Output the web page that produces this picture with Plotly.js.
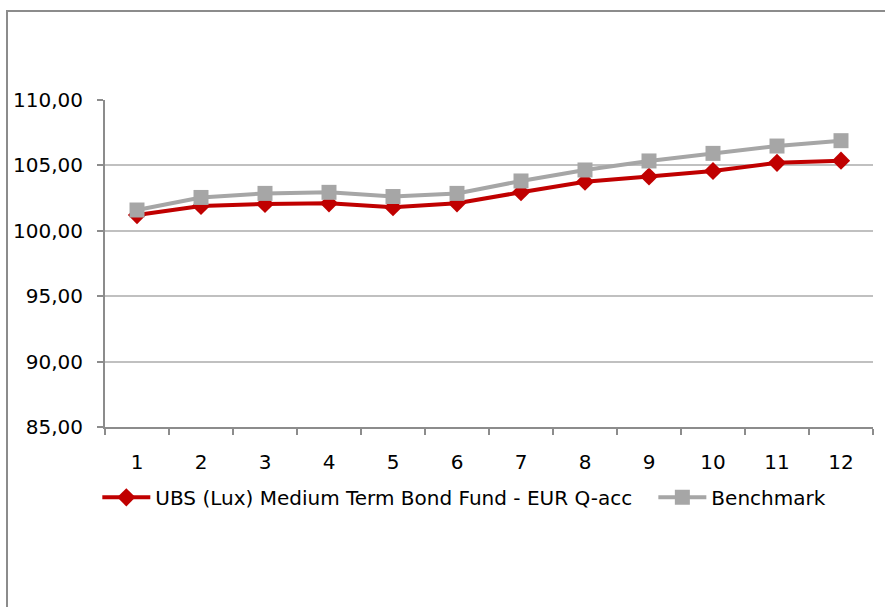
<!DOCTYPE html>
<html>
<head>
<meta charset="utf-8">
<script src="https://cdn.plot.ly/plotly-3.0.1.min.js"></script>
<style>
html,body{margin:0;padding:0;background:#fff;}
#wrap{position:relative;width:885px;height:607px;overflow:hidden;}
#frame{position:absolute;left:6px;top:10px;width:900px;height:700px;border:2px solid #8c8c8c;box-sizing:border-box;}
#chart{position:absolute;left:0;top:0;width:885px;height:607px;}
</style>
</head>
<body>
<div id="wrap"><div id="frame"></div><div id="chart"></div></div>
<script>
const categories = ["1","2","3","4","5","6","7","8","9","10","11","12"];
const fundName = "UBS (Lux) Medium Term Bond Fund - EUR Q-acc";
const fundValues = [101.2, 101.9, 102.05, 102.1, 101.8, 102.1, 102.95, 103.75, 104.15, 104.57, 105.2, 105.36];
const benchName = "Benchmark";
const benchValues = [101.59, 102.55, 102.86, 102.94, 102.62, 102.86, 103.81, 104.65, 105.34, 105.92, 106.48, 106.89];
const yTicks = [85, 90, 95, 100, 105, 110];

const FONT = "DejaVu Sans, sans-serif";
const traces = [
  {x: categories, y: fundValues, name: fundName, type: "scatter", mode: "lines+markers", legend: "legend",
   line: {color: "#c00000", width: 4}, marker: {symbol: "diamond", size: 14, color: "#c00000"}},
  {x: categories, y: benchValues, name: benchName, type: "scatter", mode: "lines+markers", legend: "legend2",
   line: {color: "#a6a6a6", width: 4}, marker: {symbol: "square", size: 15, color: "#a6a6a6"}}
];
const legFont = {family: FONT, size: 20, color: "#000"};
const layout = {
  width: 885, height: 607,
  margin: {l: 105, r: 12, t: 100, b: 180},
  paper_bgcolor: "rgba(0,0,0,0)", plot_bgcolor: "rgba(0,0,0,0)",
  separators: ",.",
  font: {family: FONT, size: 20, color: "#000"},
  showlegend: true,
  legend: {orientation: "h", x: -0.01, xanchor: "left", y: -0.215, yanchor: "middle", font: legFont, itemwidth: 48},
  legend2: {orientation: "h", x: 0.714, xanchor: "left", y: -0.215, yanchor: "middle", font: legFont, itemwidth: 48},
  xaxis: {type: "category", range: [-0.5, 11.5], tickson: "boundaries", ticks: "outside", ticklen: 6, tickwidth: 2, tickcolor: "#8c8c8c",
          showline: true, linecolor: "#8c8c8c", linewidth: 2, showgrid: false, zeroline: false,
          ticklabelstandoff: 16, tickfont: {family: FONT, size: 20, color: "#000"}, fixedrange: true},
  yaxis: {range: [85, 110], tickvals: yTicks, tickformat: ".2f", ticks: "outside", ticklen: 6, tickwidth: 2, tickcolor: "#8c8c8c",
          showline: true, linecolor: "#8c8c8c", linewidth: 2, showgrid: true, gridcolor: "#c0c0c0", gridwidth: 2,
          zeroline: false, ticklabelstandoff: 10, tickfont: {family: FONT, size: 20, color: "#000"}, fixedrange: true}
};
Plotly.newPlot("chart", traces, layout, {displayModeBar: false, staticPlot: true});
</script>
</body>
</html>
